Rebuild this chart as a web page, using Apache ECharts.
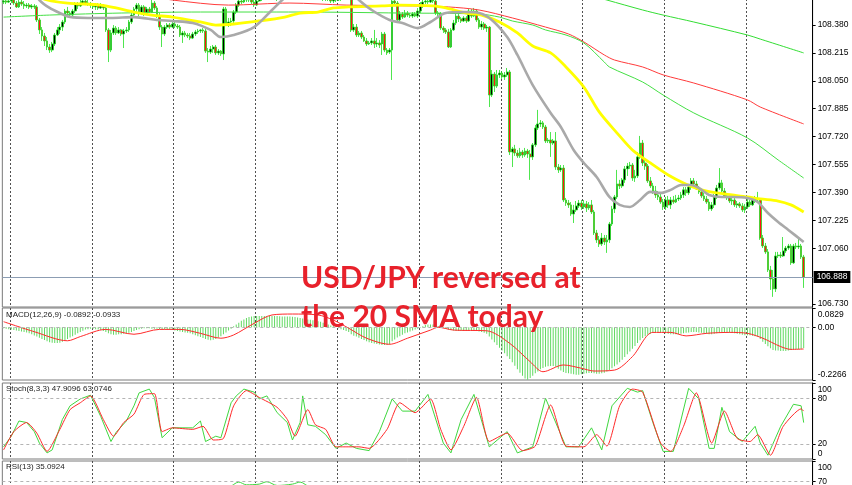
<!DOCTYPE html>
<html><head><meta charset="utf-8">
<script src="https://cdn.jsdelivr.net/npm/echarts@6/dist/echarts.min.js"></script>
<style>html,body{margin:0;padding:0;background:#fff}#c{width:852px;height:485px}</style>
</head><body><div id="c"></div>
<script>
// ---- price bars: [open, close, low, high] ----
const ohlc = [
[108.516,108.522,108.504,108.540],[108.522,108.516,108.504,108.534],[108.516,108.522,108.510,108.540],[108.522,108.528,108.510,108.546],[108.528,108.510,108.498,108.540],
[108.510,108.487,108.481,108.522],[108.487,108.516,108.481,108.528],[108.516,108.504,108.493,108.534],[108.504,108.493,108.475,108.522],[108.493,108.498,108.481,108.510],
[108.498,108.487,108.475,108.510],[108.487,108.493,108.475,108.504],[108.493,108.487,108.475,108.504],[108.487,108.410,108.398,108.498],[108.410,108.351,108.327,108.422],
[108.351,108.315,108.286,108.368],[108.315,108.286,108.256,108.333],[108.286,108.250,108.232,108.309],[108.250,108.232,108.215,108.268],[108.232,108.268,108.220,108.280],
[108.268,108.321,108.256,108.333],[108.321,108.351,108.315,108.368],[108.351,108.368,108.327,108.386],[108.368,108.398,108.345,108.410],[108.398,108.463,108.386,108.475],
[108.463,108.451,108.433,108.487],[108.451,108.439,108.422,108.463],[108.439,108.463,108.422,108.475],[108.463,108.504,108.451,108.516],[108.504,108.493,108.475,108.516],
[108.493,108.510,108.487,108.528],[108.510,108.522,108.498,108.540],[108.522,108.510,108.498,108.534],[108.510,108.504,108.493,108.528],[108.504,108.498,108.481,108.516],
[108.498,108.487,108.475,108.510],[108.487,108.498,108.469,108.510],[108.498,108.481,108.469,108.510],[108.481,108.493,108.475,108.510],[108.493,108.481,108.469,108.504],
[108.481,108.351,108.339,108.493],[108.351,108.232,108.161,108.362],[108.232,108.333,108.220,108.351],[108.333,108.362,108.321,108.380],[108.362,108.333,108.321,108.374],
[108.333,108.351,108.327,108.368],[108.351,108.327,108.315,108.357],[108.327,108.345,108.244,108.357],[108.345,108.351,108.333,108.368],[108.351,108.398,108.339,108.410],
[108.398,108.439,108.386,108.451],[108.439,108.475,108.427,108.487],[108.475,108.498,108.451,108.510],[108.498,108.451,108.433,108.510],[108.451,108.487,108.439,108.498],
[108.487,108.445,108.433,108.498],[108.445,108.475,108.439,108.487],[108.475,108.457,108.451,108.487],[108.457,108.510,108.451,108.528],[108.510,108.481,108.469,108.522],
[108.481,108.433,108.422,108.493],[108.433,108.368,108.351,108.451],[108.368,108.327,108.250,108.380],[108.327,108.368,108.315,108.380],[108.368,108.380,108.357,108.392],
[108.380,108.368,108.357,108.392],[108.368,108.386,108.362,108.398],[108.386,108.374,108.362,108.398],[108.374,108.368,108.357,108.386],[108.368,108.321,108.309,108.380],
[108.321,108.333,108.274,108.345],[108.333,108.321,108.309,108.345],[108.321,108.315,108.303,108.333],[108.315,108.303,108.291,108.333],[108.303,108.327,108.297,108.339],
[108.327,108.339,108.315,108.351],[108.339,108.345,108.327,108.357],[108.345,108.351,108.333,108.357],[108.351,108.345,108.333,108.362],[108.345,108.226,108.215,108.357],
[108.226,108.220,108.161,108.244],[108.220,108.238,108.209,108.256],[108.238,108.250,108.215,108.262],[108.250,108.215,108.203,108.262],[108.215,108.226,108.203,108.238],
[108.226,108.209,108.197,108.232],[108.209,108.475,108.173,108.487],[108.475,108.386,108.374,108.487],[108.386,108.398,108.368,108.422],[108.398,108.404,108.374,108.422],
[108.404,108.457,108.392,108.469],[108.457,108.498,108.445,108.510],[108.498,108.522,108.487,108.540],[108.522,108.516,108.504,108.540],[108.516,108.528,108.510,108.546],
[108.528,108.540,108.516,108.558],[108.540,108.528,108.516,108.552],[108.528,108.516,108.504,108.540],[108.516,108.498,108.487,108.528],[108.498,108.522,108.493,108.540],
[108.522,108.540,108.516,108.558],[108.540,108.552,108.522,108.569],[108.552,108.546,108.528,108.569],[108.546,108.558,108.534,108.575],[108.558,108.546,108.534,108.575],
[108.546,108.563,108.540,108.581],[108.563,108.552,108.540,108.581],[108.552,108.540,108.522,108.569],[108.540,108.558,108.528,108.569],[108.558,108.569,108.546,108.587],
[108.569,108.581,108.558,108.599],[108.581,108.563,108.552,108.593],[108.563,108.575,108.552,108.587],[108.575,108.587,108.563,108.605],[108.587,108.569,108.558,108.599],
[108.569,108.581,108.558,108.599],[108.581,108.593,108.569,108.611],[108.593,108.575,108.563,108.605],[108.575,108.563,108.552,108.593],[108.563,108.575,108.552,108.587],
[108.575,108.558,108.546,108.587],[108.558,108.546,108.534,108.575],[108.546,108.558,108.534,108.569],[108.558,108.540,108.528,108.569],[108.540,108.552,108.528,108.563],
[108.552,108.534,108.522,108.563],[108.534,108.546,108.522,108.558],[108.546,108.534,108.522,108.558],[108.534,108.522,108.510,108.546],[108.522,108.540,108.510,108.552],
[108.540,108.528,108.516,108.552],[108.528,108.540,108.522,108.552],[108.540,108.534,108.522,108.552],[108.534,108.546,108.528,108.558],[108.546,108.552,108.534,108.563],
[108.552,108.546,108.528,108.563],[108.546,108.351,108.339,108.558],[108.351,108.368,108.339,108.386],[108.368,108.321,108.309,108.386],[108.321,108.333,108.309,108.345],
[108.333,108.309,108.297,108.345],[108.309,108.286,108.280,108.321],[108.286,108.268,108.256,108.303],[108.268,108.274,108.262,108.286],[108.274,108.286,108.262,108.303],
[108.286,108.268,108.244,108.351],[108.268,108.274,108.250,108.303],[108.274,108.262,108.244,108.291],[108.268,108.327,108.203,108.339],[108.327,108.232,108.220,108.339],
[108.232,108.215,108.203,108.244],[108.220,108.232,108.209,108.244],[108.232,108.522,108.055,108.540],[108.522,108.510,108.498,108.552],[108.510,108.410,108.398,108.522],
[108.410,108.445,108.398,108.463],[108.445,108.427,108.416,108.457],[108.427,108.451,108.422,108.469],[108.451,108.439,108.427,108.463],[108.439,108.433,108.422,108.451],
[108.433,108.445,108.422,108.457],[108.445,108.433,108.427,108.457],[108.433,108.463,108.422,108.481],[108.463,108.498,108.451,108.516],[108.498,108.516,108.481,108.534],
[108.516,108.522,108.504,108.540],[108.522,108.516,108.504,108.540],[108.516,108.528,108.510,108.546],[108.528,108.522,108.510,108.546],[108.522,108.451,108.439,108.534],
[108.451,108.445,108.433,108.463],[108.445,108.362,108.351,108.457],[108.362,108.351,108.333,108.374],[108.351,108.339,108.327,108.362],[108.339,108.250,108.244,108.357],
[108.250,108.351,108.244,108.362],[108.351,108.392,108.345,108.410],[108.392,108.433,108.380,108.451],[108.433,108.416,108.398,108.451],[108.416,108.404,108.392,108.427],
[108.404,108.422,108.398,108.433],[108.422,108.404,108.392,108.433],[108.404,108.463,108.398,108.475],[108.463,108.433,108.422,108.475],[108.433,108.463,108.427,108.481],
[108.463,108.410,108.398,108.475],[108.410,108.368,108.357,108.422],[108.368,108.386,108.351,108.404],[108.386,108.362,108.351,108.398],[108.362,108.368,108.339,108.380],
[108.368,107.966,107.895,108.374],[107.966,108.090,107.954,108.114],[108.090,108.019,107.984,108.102],[108.019,108.085,108.008,108.114],[108.085,108.096,108.067,108.114],
[108.096,108.073,108.061,108.108],[108.073,108.085,108.055,108.102],[108.085,108.102,108.073,108.126],[108.102,107.629,107.611,108.114],[107.629,107.647,107.540,107.659],
[107.647,107.623,107.606,107.671],[107.623,107.606,107.594,107.641],[107.606,107.629,107.594,107.653],[107.629,107.611,107.594,107.641],[107.611,107.635,107.600,107.653],
[107.635,107.617,107.594,107.647],[107.617,107.600,107.464,107.641],[107.600,107.671,107.582,107.682],[107.671,107.771,107.659,107.789],[107.771,107.795,107.759,107.878],
[107.795,107.801,107.777,107.818],[107.801,107.777,107.765,107.812],[107.777,107.694,107.682,107.789],[107.694,107.700,107.682,107.712],[107.700,107.682,107.600,107.747],
[107.682,107.694,107.671,107.706],[107.694,107.540,107.523,107.747],[107.540,107.523,107.505,107.558],[107.523,107.534,107.511,107.552],[107.534,107.345,107.333,107.552],
[107.345,107.327,107.310,107.357],[107.327,107.316,107.298,107.345],[107.316,107.262,107.251,107.333],[107.262,107.286,107.209,107.316],[107.286,107.310,107.274,107.339],
[107.310,107.327,107.298,107.345],[107.327,107.304,107.286,107.345],[107.304,107.322,107.292,107.345],[107.322,107.298,107.274,107.339],[107.298,107.316,107.286,107.333],
[107.316,107.274,107.262,107.345],[107.274,107.150,107.138,107.286],[107.150,107.109,107.091,107.168],[107.109,107.085,107.067,107.132],[107.085,107.120,107.073,107.150],
[107.120,107.097,107.079,107.138],[107.097,107.109,107.032,107.138],[107.109,107.203,107.091,107.215],[107.203,107.292,107.191,107.310],[107.292,107.363,107.268,107.375],
[107.363,107.440,107.351,107.523],[107.440,107.428,107.410,107.464],[107.428,107.464,107.416,107.475],[107.464,107.529,107.446,107.546],[107.529,107.546,107.487,107.564],
[107.546,107.552,107.529,107.570],[107.552,107.475,107.458,107.564],[107.475,107.487,107.452,107.523],[107.487,107.600,107.475,107.629],[107.600,107.682,107.588,107.724],
[107.682,107.564,107.546,107.700],[107.564,107.546,107.523,107.582],[107.546,107.458,107.446,107.558],[107.458,107.428,107.416,107.481],[107.428,107.398,107.381,107.446],
[107.398,107.375,107.357,107.428],[107.375,107.363,107.345,107.398],[107.363,107.333,107.322,107.387],[107.333,107.304,107.286,107.351],[107.304,107.345,107.286,107.363],
[107.345,107.316,107.298,107.369],[107.316,107.345,107.292,107.363],[107.345,107.333,107.322,107.369],[107.333,107.351,107.327,107.375],[107.351,107.357,107.339,107.375],
[107.357,107.375,107.345,107.393],[107.375,107.405,107.357,107.422],[107.405,107.387,107.369,107.422],[107.387,107.422,107.375,107.440],[107.422,107.458,107.405,107.475],
[107.458,107.440,107.416,107.475],[107.440,107.410,107.405,107.458],[107.410,107.393,107.381,107.428],[107.393,107.369,107.357,107.410],[107.369,107.351,107.339,107.387],
[107.351,107.333,107.322,107.369],[107.333,107.292,107.280,107.351],[107.292,107.316,107.280,107.333],[107.316,107.363,107.298,107.381],[107.363,107.416,107.351,107.434],
[107.416,107.446,107.405,107.534],[107.446,107.398,107.387,107.464],[107.398,107.369,107.357,107.416],[107.369,107.357,107.345,107.387],[107.357,107.339,107.327,107.369],
[107.339,107.345,107.316,107.369],[107.345,107.316,107.304,107.357],[107.316,107.322,107.298,107.339],[107.322,107.310,107.298,107.333],[107.310,107.286,107.274,107.327],
[107.286,107.304,107.268,107.322],[107.304,107.333,107.292,107.351],[107.333,107.316,107.304,107.345],[107.316,107.345,107.310,107.363],[107.345,107.351,107.327,107.369],
[107.351,107.345,107.333,107.393],[107.345,107.120,107.109,107.357],[107.120,107.073,107.061,107.138],[107.073,107.038,107.026,107.091],[107.038,106.931,106.919,107.055],
[106.931,106.878,106.813,106.955],[106.878,106.819,106.772,106.931],[106.819,107.014,106.801,107.038],[107.014,107.020,107.002,107.038],[107.020,107.014,107.002,107.038],
[107.014,107.044,107.008,107.126],[107.044,107.061,107.032,107.073],[107.061,107.073,107.050,107.085],[107.073,106.973,106.961,107.085],[106.973,107.073,106.967,107.085],
[107.073,107.067,107.055,107.091],[107.067,107.073,107.055,107.120],[107.073,107.008,106.996,107.085],[107.008,106.888,106.825,107.020]
];

// ---- moving averages, read as [bar index, price] ----
const maGray = [[10,108.617],[14,108.528],[18,108.481],[22,108.451],[26,108.427],[33,108.422],[42,108.422],[51,108.427],[60,108.410],[66,108.404],[74,108.392],[81,108.351],[85,108.309],[90,108.321],[98,108.368],[105,108.469],[109,108.528],[116,108.617],[128,108.646],[136,108.575],[139,108.528],[144,108.469],[151,108.410],[156,108.392],[162,108.362],[167,108.398],[173,108.451],[180,108.457],[186,108.451],[191,108.410],[197,108.309],[201,108.203],[207,108.025],[214,107.860],[218,107.777],[223,107.641],[227,107.564],[232,107.481],[237,107.363],[241,107.316],[245,107.304],[249,107.345],[253,107.393],[257,107.387],[261,107.405],[265,107.434],[269,107.434],[272,107.416],[276,107.375],[281,107.363],[285,107.363],[291,107.357],[295,107.333],[299,107.268],[303,107.215],[307,107.168],[313,107.097]];
const maYellow = [[12,108.558],[17,108.528],[25,108.510],[38,108.498],[44,108.481],[51,108.457],[58,108.439],[66,108.427],[77,108.398],[83,108.380],[90,108.386],[100,108.404],[110,108.427],[116,108.451],[123,108.457],[129,108.481],[135,108.487],[148,108.493],[155,108.498],[168,108.493],[173,108.481],[181,108.451],[187,108.439],[194,108.398],[201,108.333],[207,108.256],[214,108.215],[220,108.132],[227,108.013],[233,107.866],[240,107.741],[246,107.641],[253,107.564],[260,107.493],[266,107.446],[273,107.405],[279,107.387],[285,107.375],[291,107.363],[296,107.351],[303,107.339],[308,107.316],[313,107.274]];
const maRed = [[60,108.546],[66,108.528],[88,108.498],[112,108.510],[134,108.498],[160,108.493],[174,108.487],[186,108.469],[199,108.422],[212,108.368],[221,108.327],[227,108.280],[235,108.203],[239,108.173],[250,108.132],[258,108.085],[270,108.037],[291,107.937],[296,107.895],[313,107.795]];
const maGreen = [[0,108.427],[18,108.439],[46,108.451],[77,108.457],[116,108.457],[155,108.451],[186,108.445],[194,108.427],[199,108.404],[207,108.380],[212,108.351],[220,108.321],[227,108.274],[235,108.161],[237,108.132],[250,108.043],[258,107.966],[270,107.860],[291,107.712],[303,107.582],[313,107.475]];
const maGreenTop = [[222,108.587],[236,108.528],[250,108.469],[258,108.439],[270,108.398],[291,108.321],[296,108.297],[313,108.215]];

// ---- MACD(12,26,9) ----
const macdHist = [
-0.004,-0.006,-0.008,-0.010,-0.012,-0.014,-0.016,-0.018,-0.020,-0.022,
-0.026,-0.030,-0.035,-0.040,-0.045,-0.050,-0.055,-0.060,-0.064,-0.066,
-0.068,-0.068,-0.066,-0.062,-0.056,-0.050,-0.044,-0.038,-0.032,-0.026,
-0.020,-0.015,-0.010,-0.008,-0.006,-0.006,-0.008,-0.010,-0.012,-0.016,
-0.020,-0.026,-0.030,-0.032,-0.032,-0.030,-0.030,-0.028,-0.026,-0.024,
-0.020,-0.016,-0.012,-0.008,-0.006,-0.004,-0.004,-0.004,-0.006,-0.006,
-0.006,-0.008,-0.010,-0.010,-0.010,-0.012,-0.012,-0.014,-0.016,-0.018,
-0.020,-0.022,-0.024,-0.026,-0.030,-0.034,-0.038,-0.042,-0.046,-0.050,
-0.054,-0.056,-0.054,-0.050,-0.044,-0.038,-0.030,-0.022,-0.014,-0.006,
0.004,0.012,0.020,0.028,0.034,0.040,0.044,0.046,0.048,0.048,
0.048,0.048,0.048,0.048,0.048,0.048,0.048,0.048,0.047,0.046,
0.046,0.046,0.046,0.045,0.044,0.042,0.040,0.038,0.036,0.034,
0.032,0.030,0.028,0.026,0.024,0.020,0.016,0.012,0.008,0.004,
0.000,-0.004,-0.008,-0.012,-0.016,-0.020,-0.030,-0.036,-0.040,-0.045,
-0.050,-0.055,-0.060,-0.064,-0.068,-0.070,-0.072,-0.074,-0.076,-0.076,
-0.076,-0.074,-0.060,-0.052,-0.044,-0.038,-0.032,-0.026,-0.022,-0.018,
-0.014,-0.010,-0.006,-0.002,0.004,0.010,0.012,0.012,0.012,0.010,
0.006,0.002,-0.002,-0.006,-0.010,-0.012,-0.014,-0.016,-0.016,-0.016,
-0.016,-0.016,-0.016,-0.016,-0.016,-0.016,-0.018,-0.020,-0.024,-0.028,
-0.040,-0.052,-0.064,-0.076,-0.088,-0.100,-0.112,-0.124,-0.136,-0.150,
-0.165,-0.180,-0.195,-0.208,-0.220,-0.226,-0.218,-0.208,-0.198,-0.190,
-0.180,-0.175,-0.170,-0.168,-0.166,-0.166,-0.170,-0.178,-0.186,-0.192,
-0.196,-0.198,-0.200,-0.202,-0.204,-0.204,-0.202,-0.200,-0.198,-0.196,
-0.196,-0.198,-0.200,-0.200,-0.198,-0.195,-0.190,-0.184,-0.176,-0.168,
-0.160,-0.150,-0.140,-0.128,-0.116,-0.104,-0.092,-0.080,-0.068,-0.056,
-0.046,-0.038,-0.032,-0.028,-0.024,-0.022,-0.022,-0.022,-0.024,-0.026,
-0.028,-0.030,-0.030,-0.030,-0.030,-0.028,-0.026,-0.024,-0.022,-0.020,
-0.020,-0.020,-0.022,-0.024,-0.026,-0.028,-0.030,-0.030,-0.028,-0.026,
-0.024,-0.022,-0.022,-0.022,-0.024,-0.024,-0.026,-0.028,-0.030,-0.032,
-0.034,-0.034,-0.034,-0.036,-0.038,-0.040,-0.050,-0.062,-0.072,-0.082,
-0.090,-0.098,-0.100,-0.100,-0.102,-0.102,-0.102,-0.100,-0.098,-0.096,
-0.094,-0.094,-0.092,-0.0892
];
const macdSignal = [[0,0.024],[12,-0.019],[25,-0.058],[30,-0.040],[40,-0.009],[51,-0.030],[61,-0.009],[69,-0.009],[77,-0.026],[85,-0.047],[90,-0.033],[98,0.017],[105,0.053],[113,0.057],[123,0.053],[129,0.031],[135,-0.004],[142,-0.047],[151,-0.073],[158,-0.047],[167,-0.012],[170,0.000],[176,-0.012],[189,-0.015],[198,-0.069],[206,-0.148],[211,-0.191],[219,-0.162],[226,-0.176],[231,-0.188],[239,-0.184],[246,-0.126],[254,-0.022],[261,-0.022],[267,-0.037],[275,-0.026],[284,-0.022],[291,-0.026],[297,-0.047],[304,-0.083],[308,-0.095],[313,-0.0933]];

// ---- Stochastic(8,3,3) ----
const stochK = [[0,16],[3,30],[6,50],[9,48],[12,36],[14,21],[17,8],[19,12],[23,52],[26,70],[30,79],[34,84],[38,56],[42,23],[44,35],[48,50],[51,70],[53,87],[57,92],[59,81],[62,28],[66,41],[69,41],[74,41],[77,50],[79,23],[83,30],[85,28],[89,74],[91,83],[94,92],[98,88],[100,79],[103,83],[107,61],[111,48],[113,25],[116,48],[117,83],[119,45],[122,43],[126,32],[130,14],[134,21],[138,14],[143,11],[147,36],[152,79],[156,63],[161,63],[166,85],[172,21],[175,8],[179,52],[184,85],[190,16],[197,36],[201,8],[207,16],[212,80],[215,56],[220,16],[225,16],[230,41],[234,12],[238,70],[244,93],[248,88],[250,90],[254,48],[258,10],[262,10],[268,93],[272,79],[276,14],[278,14],[281,68],[284,36],[289,23],[294,43],[296,21],[299,5],[304,43],[309,72],[312,70],[313,47.91]];
const stochD = [[0,12],[4,36],[9,48],[13,34],[17,10],[22,39],[26,65],[30,74],[34,83],[39,52],[43,30],[47,48],[51,59],[55,85],[59,86],[62,36],[66,41],[74,39],[78,43],[82,25],[86,27],[90,70],[95,90],[100,81],[107,68],[111,52],[114,30],[119,65],[122,45],[126,39],[130,16],[134,16],[139,16],[143,14],[150,39],[155,74],[161,61],[167,79],[171,39],[175,12],[180,43],[185,81],[190,23],[197,34],[203,11],[208,17],[214,71],[220,17],[227,16],[232,32],[236,17],[241,70],[246,92],[250,88],[257,21],[261,10],[266,43],[271,87],[277,21],[282,63],[287,27],[292,23],[295,32],[300,5],[305,43],[312,66],[313,63.07]];

// ---- RSI(13) (only its top is visible) ----
const rsi = [[80,55],[88,61],[92,69],[95,65],[100,66],[103,69.5],[107,64],[113,66],[116,69],[120,62],[313,35.09]];

// ---- axis ticks and levels ----
const priceTicks = [108.380,108.215,108.050,107.885,107.720,107.555,107.390,107.225,107.060,106.730];
const lastPrice = 106.888;
const macdRange = [-0.2266, 0.0829];
const macdMidTicks = [0];
const stochMidTicks = [80, 20];
const stochLevels = [80, 20];
const rsiMidTicks = [70];
const rsiLevels = [70];
const barsPerGridLine = 32, firstGridBar = 3, padBars = 3;
const labels = {
  macd: 'MACD(12,26,9) -0.0892 -0.0933',
  stoch: 'Stoch(8,3,3) 47.9096 63.0746',
  rsi: 'RSI(13) 35.0924',
  note1: 'USD/JPY reversed at',
  note2: 'the 20 SMA today'
};

const categories = Array.from({length: ohlc.length + padBars}, (_, i) => String(i));
const FONT = 'Liberation Sans, Arial, sans-serif';
const L = 2.33, W = 810.3;
const grids = [
  {left: L, width: W, top: -1, height: 308},
  {left: L, width: W, top: 308, height: 72},
  {left: L, width: W, top: 383, height: 76},
  {left: L, width: W, top: 461, height: 68}
].map(g => Object.assign(g, {show: true, borderColor: '#7a7a7a', borderWidth: 1, outerBoundsMode: 'none', containLabel: false}));

const xAxes = grids.map((g, k) => ({
  type: 'category', gridIndex: k, data: categories, boundaryGap: true,
  axisLine: {show: false}, axisTick: {show: false}, axisLabel: {show: false},
  splitLine: {show: true, interval: (idx) => idx >= firstGridBar && (idx - firstGridBar) % barsPerGridLine === 0,
    lineStyle: {color: '#505050', type: [2, 2], width: 1}}
}));

const lblBase = {fontSize: 8.5, color: '#000', fontFamily: FONT};
const rich = {
  t: Object.assign({padding: [14, 0, 0, 0]}, lblBase),
  b: Object.assign({padding: [0, 0, 10, 0]}, lblBase),
  m: Object.assign({}, lblBase)
};
// main axis: line, ticks and inner labels
function yMain(k, min, max, tickVals, labelVals, fmt) {
  return {
    type: 'value', gridIndex: k, position: 'right', min, max,
    axisLine: {show: true, lineStyle: {color: '#000', width: 1}},
    axisTick: {show: true, customValues: tickVals, length: 3, lineStyle: {color: '#000'}},
    axisLabel: Object.assign({customValues: labelVals, formatter: fmt, margin: 5, rich}, lblBase),
    splitLine: {show: false}
  };
}
// edge axis: only the labels at the top / bottom of a sub-window, drawn inside it
function yEdge(k, min, max, labelVals, fmt) {
  return {
    type: 'value', gridIndex: k, position: 'right', min, max,
    axisLine: {show: false}, axisTick: {show: false},
    axisLabel: Object.assign({customValues: labelVals, formatter: fmt, margin: 5, rich, showMinLabel: true, showMaxLabel: true}, lblBase),
    splitLine: {show: false}
  };
}
const yAxes = [
  yMain(0, 106.712, 108.534, priceTicks, priceTicks, v => v.toFixed(3)),
  yMain(1, macdRange[0], macdRange[1], [macdRange[1], 0, macdRange[0]], macdMidTicks, v => '{m|0.00}'),
  yEdge(1, macdRange[0], macdRange[1], [macdRange[1], macdRange[0]], v => v > 0 ? '{t|' + v.toFixed(4) + '}' : '{b|' + v.toFixed(4) + '}'),
  yMain(2, 0, 100, [100, 80, 20, 0], stochMidTicks, v => '{m|' + v + '}'),
  yEdge(2, 0, 100, [100, 0], v => v === 100 ? '{t|100}' : '{b|0}'),
  yMain(3, 0, 100, [100, 70], rsiMidTicks, v => '{m|' + v + '}'),
  yEdge(3, 0, 100, [100], v => '{t|100}')
];

function levelLines(vals) {
  return {silent: true, symbol: 'none', label: {show: false},
    lineStyle: {color: '#b4b4b4', type: [3, 3], width: 1},
    data: vals.map(v => ({yAxis: v}))};
}
function maLine(data, color, width, z) {
  return {type: 'line', xAxisIndex: 0, yAxisIndex: 0, data, showSymbol: false, smooth: 0.3,
    lineStyle: {color, width}, itemStyle: {color}, z, silent: true};
}

const option = {
  animation: false,
  backgroundColor: '#ffffff',
  grid: grids, xAxis: xAxes, yAxis: yAxes,
  series: [
    {type: 'candlestick', xAxisIndex: 0, yAxisIndex: 0, data: ohlc, barWidth: 2.2, z: 3,
      itemStyle: {color: '#000000', color0: '#ff1414', borderColor: '#22e022', borderColor0: '#22e022', borderWidth: 0.8},
      markLine: {silent: true, symbol: 'none', animation: false,
        lineStyle: {color: '#8c9db3', width: 1, type: 'solid'},
        label: {show: true, position: 'end', distance: 1, formatter: lastPrice.toFixed(3),
          backgroundColor: '#000', color: '#fff', fontSize: 8.5, fontFamily: FONT, padding: [2, 3, 1, 3]},
        data: [{yAxis: lastPrice}]}},
    maLine(maGreenTop, '#33dd33', 1, 4),
    maLine(maRed, '#ff3b3b', 1, 4),
    maLine(maGreen, '#44e044', 1, 4),
    maLine(maYellow, '#ffff00', 2.8, 5),
    maLine(maGray, '#a9a9a9', 2.6, 6),
    {type: 'bar', xAxisIndex: 1, yAxisIndex: 1, data: macdHist, barWidth: 1, itemStyle: {color: '#62d962'},
      markLine: levelLines([0])},
    {type: 'line', xAxisIndex: 1, yAxisIndex: 1, data: macdSignal, showSymbol: false, smooth: 0.3,
      lineStyle: {color: '#ff2a2a', width: 1}},
    {type: 'line', xAxisIndex: 2, yAxisIndex: 3, data: stochK, showSymbol: false,
      lineStyle: {color: '#3fd83f', width: 1}, markLine: levelLines(stochLevels)},
    {type: 'line', xAxisIndex: 2, yAxisIndex: 3, data: stochD, showSymbol: false, smooth: 0.2,
      lineStyle: {color: '#ff2a2a', width: 1}},
    {type: 'line', xAxisIndex: 3, yAxisIndex: 5, data: rsi, showSymbol: false, smooth: 0.3,
      lineStyle: {color: '#3fd83f', width: 1}, markLine: levelLines(rsiLevels)}
  ],
  graphic: [
    {type: 'text', left: 6, top: 311, z: 50, style: {text: labels.macd, fontSize: 8, fill: '#222', fontFamily: FONT}},
    {type: 'text', left: 6, top: 385, z: 50, style: {text: labels.stoch, fontSize: 8, fill: '#222', fontFamily: FONT}},
    {type: 'text', left: 6, top: 463, z: 50, style: {text: labels.rsi, fontSize: 8, fill: '#222', fontFamily: FONT}},
    {type: 'text', x: 301, y: 278, z: 60, style: {text: labels.note1, fontSize: 30, fontWeight: 'bold', fill: '#e8212b', fontFamily: 'Lato, Liberation Sans, sans-serif', verticalAlign: 'middle'}},
    {type: 'text', x: 301, y: 317, z: 60, style: {text: labels.note2, fontSize: 30, fontWeight: 'bold', fill: '#e8212b', fontFamily: 'Lato, Liberation Sans, sans-serif', verticalAlign: 'middle'}}
  ]
};
const chart = echarts.init(document.getElementById('c'));
chart.setOption(option);
</script></body></html>
